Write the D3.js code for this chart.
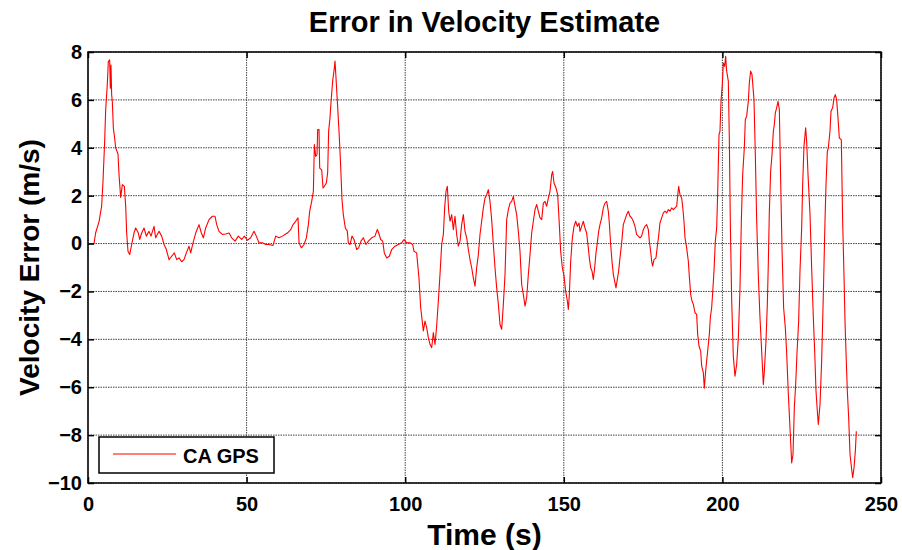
<!DOCTYPE html>
<html><head><meta charset="utf-8">
<script src="https://cdn.jsdelivr.net/npm/d3@7"></script>
<style>
html,body{margin:0;padding:0;background:#fff;}
svg{display:block;}
text{font-family:Arial,"Liberation Sans",sans-serif;font-weight:bold;fill:#000;}
</style></head>
<body>
<svg id="chart" width="902" height="550"></svg>
<script>
const titleText = "Error in Velocity Estimate";
const xLabel = "Time (s)";
const yLabel = "Velocity Error (m/s)";
const seriesName = "CA GPS";
const xTicks = [0, 50, 100, 150, 200, 250];
const yTicks = [-10, -8, -6, -4, -2, 0, 2, 4, 6, 8];

const time = [0,1.9,2.4,3.5,4.3,4.73,5.25,5.57,6.1,6.41,6.83,7.04,7.25,7.46,7.67,7.99,8.41,8.72,9.46,9.77,10.3,10.83,11.46,11.88,12.19,12.61,13.14,13.77,14.5,15.03,15.87,16.29,16.92,17.66,18.39,19.23,19.86,20.81,21.33,22.38,23.23,23.97,24.7,25.54,26.38,27.22,27.96,28.69,29.53,30.27,31,31.85,32.37,33.11,33.95,35,35.74,36.37,37.1,38.15,39.2,40.04,40.57,41.3,42.35,43.4,44.46,45.3,46.35,47.4,48.45,49.29,50.24,51.29,52.34,53.07,53.91,54.96,56.02,57.07,58.33,59.17,60.22,61.27,62.85,63.9,64.64,65.48,66.21,66.53,67.26,68.1,68.84,69.47,69.89,70.52,71.05,71.36,71.78,72.2,72.41,72.83,73.04,73.67,74.09,74.51,75.14,75.55,75.87,76.29,76.6,77.13,77.55,77.87,78.18,78.6,79.13,79.44,79.76,80.07,80.49,81.12,81.75,82.07,82.59,83.23,83.86,84.7,85.33,86.06,86.8,87.64,88.38,89.43,90.48,91.21,91.63,92.26,92.89,93.42,94.16,95,95.73,96.78,97.83,98.89,99.62,100.46,101.51,102.35,102.77,103.61,104.35,104.88,105.19,105.72,106.24,106.77,107.3,107.82,108.35,108.87,109.4,109.92,110.45,110.97,111.5,112.03,112.44,112.86,113.28,113.71,114.13,114.65,115.18,115.7,116.23,116.75,117.28,117.8,118.33,118.86,119.38,119.91,120.43,120.96,121.48,122.01,122.53,123.06,123.58,124.11,124.64,125.16,125.69,126.21,126.74,127.26,127.79,128.31,128.84,129.37,129.89,130.42,130.94,131.47,131.99,132.52,133.04,133.57,134.09,134.62,135.14,135.67,136.19,136.72,137.25,137.77,138.3,138.82,139.35,139.87,140.4,140.92,141.45,141.97,142.5,143.03,143.55,144.08,144.6,145.13,145.65,146.18,146.49,146.91,147.54,148.07,148.59,149.01,149.54,150.07,150.59,151.12,151.43,151.75,152.17,152.7,153.22,153.75,154.27,154.8,155.11,155.63,156.15,156.68,157.2,157.73,158.05,158.47,158.89,159.31,159.73,160.15,160.57,160.99,161.41,161.93,162.46,162.98,163.51,164.04,164.35,164.77,165.19,165.61,166.03,166.45,166.87,167.29,167.71,168.24,168.76,169.29,169.82,170.34,170.87,171.39,171.92,172.44,172.97,173.49,174.02,174.54,175.07,175.6,176.12,176.65,176.96,177.38,177.7,178.01,178.43,179.06,179.48,179.9,180.32,180.85,181.38,181.9,182.43,182.95,183.48,184,184.53,185.05,185.58,185.89,186.21,186.63,187.16,187.47,187.89,188.21,188.73,189.26,189.57,190,190.42,190.84,191.36,191.89,192.2,192.62,193.15,193.46,193.99,194.3,194.72,195.04,195.46,195.88,196.19,196.61,196.93,197.35,197.77,198.19,198.5,198.93,199.24,199.56,199.98,200.29,200.71,201.03,201.34,201.87,202.18,202.5,202.92,203.44,203.97,204.5,205.02,205.55,205.97,206.39,206.91,207.23,207.65,208.17,208.49,208.91,209.33,209.96,210.38,210.8,211.33,211.85,212.38,212.9,213.22,213.74,214.16,214.48,214.79,215.21,215.64,216.06,216.37,216.69,217.11,217.53,217.95,218.37,218.79,219.31,219.84,220.26,220.79,221.31,221.84,222.26,222.68,223.1,223.52,224.04,224.46,224.99,225.3,225.72,226.25,226.56,226.99,227.62,228.14,228.67,229.09,229.51,229.93,230.24,230.77,231.29,231.82,232.34,232.66,233.08,233.39,233.92,234.24,234.76,235.18,235.6,236.02,236.44,236.86,237.49,237.91,238.33,238.65,238.97,239.39,239.81,240.23,240.65,241.07,241.49,241.91,242.22];

const velocityError = [0,0,0.44,0.93,1.56,2.6,4.26,5.58,6.69,7.6,7.67,6.49,7.46,6.21,5.93,4.82,4.4,4.0,3.74,2.9,1.93,2.46,2.39,1.56,0.44,-0.32,-0.46,-0.04,0.44,0.65,0.44,0.17,0.44,0.65,0.31,0.51,0.31,0.72,0.24,0.51,0.31,-0.04,-0.25,-0.67,-0.53,-0.39,-0.67,-0.6,-0.76,-0.67,-0.39,-0.11,-0.39,0.03,0.44,0.79,0.44,0.24,0.65,1.0,1.14,1.14,0.79,0.51,0.38,0.4,0.44,0.24,0.1,0.31,0.17,0.31,0.14,0.24,0.51,0.31,0.03,0.03,-0.04,-0.04,-0.08,0.31,0.24,0.31,0.44,0.58,0.79,0.93,1.07,0.03,-0.18,-0.04,0.24,0.79,1.35,1.76,2.18,4.13,3.64,3.71,4.76,4.76,3.15,3.08,2.32,2.39,2.53,2.95,4.7,5.25,5.88,6.79,7.21,7.62,6.93,5.95,4.7,3.85,2.89,1.84,1.21,0.65,0.52,0.03,-0.04,0.31,0.17,-0.25,-0.18,0.1,0.24,-0.04,0.1,0.24,0.31,0.59,0.45,0.17,0.1,-0.39,-0.6,-0.53,-0.25,-0.11,-0.04,0.03,0.17,0.03,0.03,-0.04,-0.32,-0.39,-1.46,-2.68,-3.03,-3.65,-3.24,-3.51,-3.93,-4.21,-4.35,-3.72,-4.21,-3.44,-2.4,-1.29,-0.04,0.38,1.49,2.18,2.39,1.35,0.93,1.21,0.58,1.14,0.38,-0.11,0.1,0.79,1.21,0.51,0.24,-0.25,-0.67,-1.01,-1.43,-1.78,-1.01,-0.46,0.38,0.93,1.49,1.9,2.04,2.25,1.76,1.0,-0.04,-1.01,-1.85,-2.54,-3.38,-3.58,-2.54,-1.29,1.0,1.42,1.69,1.76,1.97,1.56,1.21,0.51,-0.32,-1.71,-2.13,-2.61,-2.26,-1.29,-0.46,0.44,0.93,1.42,1.63,1.35,1.07,1.0,1.69,1.76,1.56,1.9,2.18,2.88,3.01,2.53,2.32,2.04,0.79,-0.32,-1.01,-1.36,-1.99,-2.4,-2.75,-2.13,-0.74,0.24,0.72,0.93,0.72,0.86,0.51,0.72,0.93,0.65,0.44,-0.18,-0.6,-1.01,-1.15,-1.5,-1.01,-0.39,0.03,0.51,0.79,1.07,1.49,1.69,1.76,1.35,0.86,-0.04,-0.74,-1.29,-1.57,-1.85,-1.5,-1.15,-0.6,0.03,0.79,1.0,1.21,1.35,1.14,1.07,0.93,0.72,0.38,0.31,0.24,0.31,0.58,0.72,0.79,0.58,0.1,-0.32,-0.74,-0.94,-0.67,-0.6,-0.11,0.31,0.86,1.07,1.28,1.35,1.28,1.42,1.35,1.49,1.42,1.49,1.56,1.97,2.39,2.04,1.9,1.56,0.93,0.24,-0.18,-0.74,-1.36,-2.13,-2.4,-2.54,-2.89,-2.96,-3.79,-4.28,-4.49,-5.11,-5.39,-6.04,-5.32,-4.9,-4.35,-3.79,-3.1,-2.68,-2.06,-1.15,0.1,0.65,2.04,4.55,4.69,5.94,6.64,7.54,7.4,7.82,7.2,6.78,4.41,0.86,-2.34,-4.7,-5.54,-5.05,-3.94,-1.85,0.93,2.88,4.0,5.18,5.32,5.94,6.71,7.2,7.06,6.01,3.72,1.0,-1.36,-3.1,-4.49,-5.89,-5.33,-4.08,-2.55,-0.81,1.28,3.02,3.72,4.69,4.97,5.46,5.67,5.94,5.6,2.6,-0.18,-2.69,-3.52,-4.56,-6.3,-7.7,-9.16,-8.81,-6.86,-5.89,-4.56,-3.24,-1.15,0.65,2.46,4.06,4.83,4.27,2.88,1.21,-1.02,-3.1,-4.49,-6.17,-7.0,-7.56,-6.72,-4.91,-2.13,0.93,2.46,3.85,3.99,4.69,5.53,5.67,6.08,6.22,6.01,5.25,4.41,4.34,0.93,-1.3,-3.24,-4.57,-6.17,-7.28,-8.81,-9.3,-9.78,-9.37,-8.67,-7.84];

const data = time.map((t, i) => ({t: t, v: velocityError[i]}));

const W = 902, H = 550;
const L = 88, R = 881, T = 52, B = 483;
const svg = d3.select("#chart");

const x = d3.scaleLinear().domain([0, 250]).range([L, R]);
const y = d3.scaleLinear().domain([-10, 8]).range([B, T]);

// grid
const grid = svg.append("g");
grid.selectAll(".gx").data(xTicks).enter().append("line")
  .attr("x1", d => x(d)).attr("x2", d => x(d)).attr("y1", T).attr("y2", B)
  .attr("stroke", "#444").attr("stroke-width", 1).attr("stroke-dasharray", "1.5,1");
grid.selectAll(".gy").data(yTicks).enter().append("line")
  .attr("x1", L).attr("x2", R).attr("y1", d => y(d)).attr("y2", d => y(d))
  .attr("stroke", "#444").attr("stroke-width", 1).attr("stroke-dasharray", "1.5,1");

// line
const line = d3.line().x(d => x(d.t)).y(d => y(d.v));
svg.append("path").datum(data).attr("d", line)
  .attr("fill", "none").attr("stroke", "#ff0000").attr("stroke-width", 1.1)
  .attr("stroke-linejoin", "round");

// axes (ticks inside)
const fmt = d3.format("d");
const axB = svg.append("g").attr("transform", `translate(0,${B})`)
  .call(d3.axisBottom(x).tickValues(xTicks).tickFormat(fmt).tickSizeInner(-6).tickSizeOuter(0).tickPadding(14));
const axL = svg.append("g").attr("transform", `translate(${L},0)`)
  .call(d3.axisLeft(y).tickValues(yTicks).tickFormat(fmt).tickSizeInner(-6).tickSizeOuter(0).tickPadding(6));
const axT = svg.append("g").attr("transform", `translate(0,${T})`)
  .call(d3.axisTop(x).tickValues(xTicks).tickFormat("").tickSizeInner(-6).tickSizeOuter(0));
const axR = svg.append("g").attr("transform", `translate(${R},0)`)
  .call(d3.axisRight(y).tickValues(yTicks).tickFormat("").tickSizeInner(-6).tickSizeOuter(0));
[axB, axL, axT, axR].forEach(a => {
  a.select(".domain").remove();
  a.selectAll(".tick line").attr("stroke", "#000").attr("stroke-width", 1.5);
  a.selectAll("text").style("font-family", "Arial, 'Liberation Sans', sans-serif")
    .style("font-weight", "bold").style("font-size", "20px").attr("fill", "#000");
});
axB.selectAll("text").attr("dy", "0.71em");

// box
svg.append("rect").attr("x", L).attr("y", T).attr("width", R - L).attr("height", B - T)
  .attr("fill", "none").attr("stroke", "#000").attr("stroke-width", 1.5);

// title and labels
svg.append("text").attr("x", (L + R) / 2).attr("y", 32).attr("text-anchor", "middle")
  .style("font-size", "29px").text(titleText);
svg.append("text").attr("x", (L + R) / 2).attr("y", 545).attr("text-anchor", "middle")
  .style("font-size", "30px").text(xLabel);
svg.append("text").attr("transform", `translate(39,${(T + B) / 2}) rotate(-90)`)
  .attr("text-anchor", "middle").style("font-size", "28px").text(yLabel);

// legend
const lg = svg.append("g");
lg.append("rect").attr("x", 99).attr("y", 437).attr("width", 175).attr("height", 36)
  .attr("fill", "#fff").attr("stroke", "#000").attr("stroke-width", 1.5);
lg.append("line").attr("x1", 113).attr("x2", 176).attr("y1", 454).attr("y2", 454)
  .attr("stroke", "#ff0000").attr("stroke-width", 1.1);
lg.append("text").attr("x", 183).attr("y", 463).style("font-size", "20px").text(seriesName);
</script>
</body></html>
